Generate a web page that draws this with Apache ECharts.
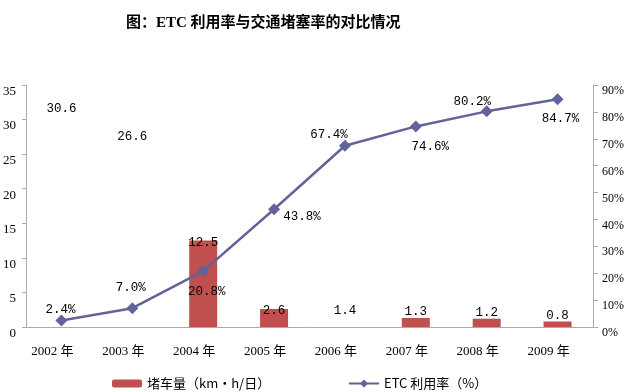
<!DOCTYPE html>
<html><head><meta charset="utf-8">
<script src="https://cdn.jsdelivr.net/npm/echarts@6/dist/echarts.min.js"></script>
<style>html,body{margin:0;padding:0;background:#fff}#c{width:629px;height:392px}</style>
</head><body><div id="c"></div>
<script>
const titleText = '图：ETC 利用率与交通堵塞率的对比情况';
const categories = ['2002 年','2003 年','2004 年','2005 年','2006 年','2007 年','2008 年','2009 年'];
const jamValues = [30.6, 26.6, 12.5, 2.6, 1.4, 1.3, 1.2, 0.8];
const etcRates = [2.4, 7.0, 20.8, 43.8, 67.4, 74.6, 80.2, 84.7];
const jamName = '堵车量（km·h/日）';
const etcName = 'ETC 利用率（%）';

// styling (not data)
const hiddenBars = [0, 1, 4];
const barLabelOffsets = [[0,0],[0,0],[0,8],[0,8],[0,0],[0,0],[0,0],[0,0]];
const lineLabelOffsets = [[-1,-10.5],[-1.5,-20],[3.5,21],[28,7],[-16,-11.5],[14.5,20],[-14.5,-9.5],[3,19]];
const BAR = '#c0504d', LINE = '#62639b', AXIS = '#aaaaaa';
const serif = '"Liberation Serif","Noto Sans CJK SC",serif';
const mono = '"Liberation Mono","Noto Sans CJK SC",monospace';
const cjk = '"Noto Sans CJK SC","Liberation Serif",sans-serif';

const chart = echarts.init(document.getElementById('c'), null, {renderer:'canvas'});
chart.setOption({
  animation: false,
  backgroundColor: '#fff',
  title: { text: titleText, left: 121, top: 11,
    textStyle: { fontFamily: '"Liberation Serif","Noto Sans CJK SC",serif', fontWeight: 'bold', fontSize: 15, color: '#000' } },
  legend: [
    { data: [jamName], left: 107, top: 372, itemWidth: 30, itemHeight: 8,
      textStyle: { fontFamily: cjk, fontSize: 13, color: '#000' } },
    { data: [etcName], left: 343, top: 372, itemWidth: 30, itemHeight: 10,
      textStyle: { fontFamily: cjk, fontSize: 13, color: '#000' } }
  ],
  grid: { left: 25, right: 36, top: 85, bottom: 65, containLabel: false },
  xAxis: { type: 'category', data: categories,
    axisLine: { lineStyle: { color: AXIS, width: 1 } },
    axisTick: { show: false },
    axisLabel: { margin: 18, fontFamily: serif, fontSize: 13, color: '#000', padding: [0,18,0,0] } },
  yAxis: [
    { type: 'value', min: 0, max: 35, interval: 5, position: 'left',
      splitLine: { show: false },
      axisLine: { show: true, lineStyle: { color: AXIS } },
      axisTick: { show: true, length: 4, lineStyle: { color: AXIS } },
      axisLabel: { margin: 10, fontFamily: serif, fontSize: 13, color: '#000', verticalAlign: 'top' } },
    { type: 'value', min: 0, max: 90, interval: 10, position: 'right',
      splitLine: { show: false },
      axisLine: { show: true, lineStyle: { color: AXIS } },
      axisTick: { show: true, length: 5, lineStyle: { color: AXIS } },
      axisLabel: { margin: 9, fontFamily: serif, fontSize: 12, color: '#000', verticalAlign: 'top', formatter: '{value}%' } }
  ],
  series: [
    { name: jamName, type: 'bar', yAxisIndex: 0, barWidth: 28,
      itemStyle: { color: BAR },
      data: jamValues.map((v, i) => ({ value: v,
        itemStyle: hiddenBars.includes(i) ? { color: 'rgba(255,255,255,0)' } : undefined,
        label: { offset: barLabelOffsets[i] } })),
      label: { show: true, position: 'top', distance: 0, fontFamily: mono, fontSize: 12.5, color: '#000',
        formatter: p => p.value.toFixed(1) } },
    { name: etcName, type: 'line', yAxisIndex: 1, symbol: 'diamond', symbolSize: 12,
      lineStyle: { color: LINE, width: 2.5 }, itemStyle: { color: LINE },
      data: etcRates.map((v, i) => ({ value: v, label: { offset: lineLabelOffsets[i] } })),
      label: { show: true, position: 'inside', fontFamily: mono, fontSize: 12.5, color: '#000',
        formatter: p => p.value.toFixed(1) + '%' } }
  ]
});
</script></body></html>
